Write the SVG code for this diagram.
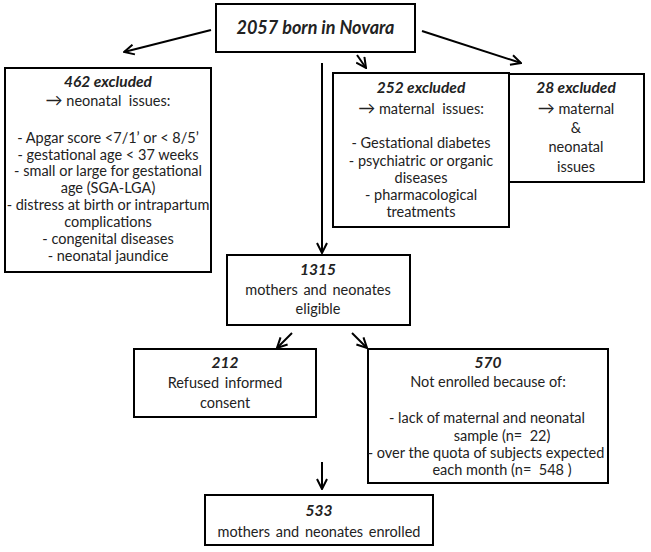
<svg xmlns="http://www.w3.org/2000/svg" width="651" height="552" viewBox="0 0 651 552">
<style>
  rect.box { fill: #fff; stroke: #000; stroke-width: 2; }
  text { font-family: Lato, "Open Sans", "Liberation Sans", sans-serif; font-size: 14.5px; fill: #222; text-anchor: middle; }
  text.b { font-weight: bold; font-style: italic; font-size: 15.5px; }
  text.t { font-weight: bold; font-style: italic; font-size: 18px; }
  text.w { word-spacing: 2px; }
  tspan.ar { font-size: 17px; }
  .conn line { stroke: #000; stroke-width: 2; marker-end: url(#ah); }
</style>
<defs>
  <marker id="ah" viewBox="0 0 12 12" refX="11" refY="6" markerWidth="12" markerHeight="12" markerUnits="userSpaceOnUse" orient="auto">
    <path d="M1,1 L11,6 L1,11" fill="none" stroke="#000" stroke-width="2"/>
  </marker>
</defs>
<rect width="651" height="552" fill="#fff"/>
<g id="connectors" class="conn">
  <line x1="211" y1="30" x2="124" y2="52"/>
  <line x1="357" y1="55" x2="366" y2="68"/>
  <line x1="422" y1="31" x2="521" y2="63"/>
  <line x1="322" y1="63" x2="322" y2="253"/>
  <line x1="292" y1="333" x2="277" y2="348"/>
  <line x1="352" y1="333" x2="367" y2="348"/>
  <line x1="322" y1="462" x2="322" y2="489"/>
</g>
<g id="n2057">
  <rect class="box" x="216" y="4" width="199" height="48"/>
  <text class="t" x="315.5" y="34">2057 born in Novara</text>
</g>
<g id="n462">
  <rect class="box" x="5" y="68" width="206" height="204"/>
  <text class="b" x="108" y="87">462 excluded</text>
  <text x="108" y="106"><tspan class="ar">→</tspan> neonatal&#160; issues:</text>
  <text x="108" y="143">- Apgar score &lt;7/1’ or &lt; 8/5’</text>
  <text x="108" y="160">- gestational age &lt; 37 weeks</text>
  <text x="108" y="176">- small or large for gestational</text>
  <text x="108" y="193">age (SGA-LGA)</text>
  <text x="108" y="210">- distress at birth or intrapartum</text>
  <text x="108" y="227">complications</text>
  <text x="108" y="244">- congenital diseases</text>
  <text x="108" y="261">- neonatal jaundice</text>
</g>
<g id="n252">
  <rect class="box" x="333" y="73" width="176" height="154"/>
  <text class="b" x="421" y="93">252 excluded</text>
  <text x="421" y="114"><tspan class="ar">→</tspan> maternal&#160; issues:</text>
  <text x="421" y="148">- Gestational diabetes</text>
  <text x="421" y="166">- psychiatric or organic</text>
  <text x="421" y="183">diseases</text>
  <text x="421" y="200">- pharmacological</text>
  <text x="421" y="217">treatments</text>
</g>
<g id="n28">
  <rect class="box" x="509" y="74" width="135" height="108"/>
  <text class="b" x="576" y="93">28 excluded</text>
  <text x="576" y="114"><tspan class="ar">→</tspan> maternal</text>
  <text x="576" y="133">&amp;</text>
  <text x="576" y="152">neonatal</text>
  <text x="576" y="172">issues</text>
</g>
<g id="n1315">
  <rect class="box" x="227" y="255" width="183" height="70"/>
  <text class="b" x="318" y="275">1315</text>
  <text class="w" x="318" y="295">mothers and neonates</text>
  <text x="318" y="314">eligible</text>
</g>
<g id="n212">
  <rect class="box" x="134" y="349" width="182" height="68"/>
  <text class="b" x="225" y="368">212</text>
  <text class="w" x="225" y="388">Refused informed</text>
  <text x="225" y="408">consent</text>
</g>
<g id="n570">
  <rect class="box" x="368" y="349" width="240" height="134"/>
  <text class="b" x="488" y="368">570</text>
  <text x="488" y="387">Not enrolled because of:</text>
  <text x="487" y="423">- lack of maternal and neonatal</text>
  <text x="502" y="441">sample (n=&#160; 22)</text>
  <text x="486" y="458">- over the quota of subjects expected</text>
  <text x="502" y="475">each month (n=&#160; 548 )</text>
</g>
<g id="n533">
  <rect class="box" x="205" y="495" width="228" height="50"/>
  <text class="b" x="319" y="516">533</text>
  <text class="w" x="319" y="537">mothers and neonates enrolled</text>
</g>
</svg>
